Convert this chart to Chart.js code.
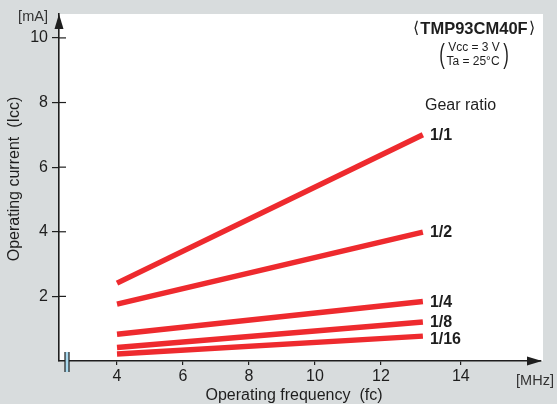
<!DOCTYPE html>
<html>
<head>
<meta charset="utf-8">
<script src="https://cdn.jsdelivr.net/npm/chart.js@4"></script>
<style>
    html, body { margin: 0; padding: 0; background: #d8dcdd; }
    #wrap { width: 557px; height: 404px; }
</style>
</head>
<body>
<div id="wrap"><canvas id="iccChart" width="557" height="404"></canvas></div>
<script>
// Operating current vs frequency, TMP93CM40F

const freq = [4, 13.27];
const gearRatios = ['1/1', '1/2', '1/4', '1/8', '1/16'];
const icc_1_1 = [2.41, 7.0];
const icc_1_2 = [1.76, 3.99];
const icc_1_4 = [0.83, 1.84];
const icc_1_8 = [0.42, 1.21];
const icc_1_16 = [0.22, 0.77];

const xTickPos = [4, 6, 8, 10, 12, 14.42];
const xTickLabels = ['4', '6', '8', '10', '12', '14'];
const yTicks = [2, 4, 6, 8, 10];

const RED = '#ee2a2e';
const INK = '#1e1e1e';
const FONT = '"Liberation Sans", Arial, Helvetica, sans-serif';

const series = [icc_1_1, icc_1_2, icc_1_4, icc_1_8, icc_1_16];

const datasets = series.map((vals, i) => ({
    label: gearRatios[i],
    data: freq.map((f, j) => ({ x: f, y: vals[j] })),
    borderColor: RED,
    borderWidth: 5.5,
    borderCapStyle: 'butt',
    pointRadius: 0,
    fill: false,
    tension: 0
}));

// white plot area, arrows, axis break, labels
const decorations = {
    id: 'decorations',
    beforeDraw(chart) {
        const { ctx, chartArea: a } = chart;
        ctx.save();
        ctx.fillStyle = '#ffffff';
        ctx.fillRect(a.left, a.top, a.right + 2 - a.left, a.bottom - a.top);
        ctx.restore();
    },
    afterDraw(chart) {
        const { ctx, chartArea: a, scales } = chart;
        const x = scales.x, y = scales.y;
        ctx.save();

        // inner half of the y ticks
        ctx.strokeStyle = INK;
        ctx.lineWidth = 1.2;
        yTicks.forEach(v => {
            const py = y.getPixelForValue(v);
            ctx.beginPath();
            ctx.moveTo(a.left, py);
            ctx.lineTo(a.left + 7, py);
            ctx.stroke();
        });

        // axis arrows
        ctx.fillStyle = INK;
        ctx.beginPath();
        ctx.moveTo(a.left, a.top);
        ctx.lineTo(a.left - 4.5, a.top + 15);
        ctx.lineTo(a.left + 4.5, a.top + 15);
        ctx.closePath();
        ctx.fill();

        ctx.beginPath();
        ctx.moveTo(a.right + 1, a.bottom);
        ctx.lineTo(a.right - 14, a.bottom - 4.5);
        ctx.lineTo(a.right - 14, a.bottom + 4.5);
        ctx.closePath();
        ctx.fill();

        // axis break
        ctx.fillStyle = '#a9d9ee';
        ctx.fillRect(a.left + 6, a.bottom - 9, 4, 20);
        ctx.strokeStyle = INK;
        ctx.lineWidth = 1.2;
        [a.left + 6, a.left + 10].forEach(bx => {
            ctx.beginPath();
            ctx.moveTo(bx, a.bottom - 9);
            ctx.lineTo(bx, a.bottom + 11);
            ctx.stroke();
        });

        // gear ratio labels at line ends
        ctx.fillStyle = INK;
        ctx.font = 'bold 16px ' + FONT;
        ctx.textAlign = 'left';
        ctx.textBaseline = 'middle';
        series.forEach((vals, i) => {
            const last = vals.length - 1;
            const px = x.getPixelForValue(freq[last]) + 7;
            let py = y.getPixelForValue(vals[last]) + 1;
            if (i === 4) py += 2;
            ctx.fillText(gearRatios[i], px, py);
        });

        ctx.font = '16px ' + FONT;
        ctx.fillText('Gear ratio', 425, 106);

        // title block
        ctx.textAlign = 'center';
        ctx.font = 'bold 16.5px ' + FONT;
        ctx.fillText('TMP93CM40F', 474, 29);
        ctx.font = '16px "DejaVu Sans", sans-serif';
        ctx.fillText('\u27E8', 416, 29);
        ctx.fillText('\u27E9', 532, 29);

        ctx.font = '12px ' + FONT;
        ctx.fillText('Vcc = 3 V', 474, 48);
        ctx.fillText('Ta = 25\u00B0C', 473, 62);
        ctx.font = '28px ' + FONT;
        [[442, '('], [506, ')']].forEach(([px, ch]) => {
            ctx.save();
            ctx.translate(px, 55);
            ctx.scale(0.6, 1);
            ctx.fillText(ch, 0, 0);
            ctx.restore();
        });

        // units
        ctx.font = '14.5px ' + FONT;
        ctx.fillStyle = '#333';
        ctx.fillText('[mA]', 33, 17);
        ctx.fillText('[MHz]', 535, 381);

        // axis titles
        ctx.fillStyle = INK;
        ctx.font = '16px ' + FONT;
        ctx.fillText('Operating frequency  (fc)', 294, 396);
        ctx.translate(15, 179);
        ctx.rotate(-Math.PI / 2);
        ctx.fillText('Operating current  (Icc)', 0, 0);

        ctx.restore();
    }
};

new Chart(document.getElementById('iccChart'), {
    type: 'line',
    data: { datasets },
    options: {
        responsive: false,
        animation: false,
        layout: { padding: { top: 14, right: 16, left: 0, bottom: 0 } },
        plugins: {
            legend: { display: false },
            tooltip: { enabled: false }
        },
        scales: {
            x: {
                type: 'linear',
                min: 2.242,
                max: 16.85,
                afterBuildTicks: s => { s.ticks = xTickPos.map(v => ({ value: v })); },
                afterFit: s => { s.height = 43; },
                ticks: {
                    autoSkip: false,
                    maxRotation: 0,
                    padding: 2,
                    color: INK,
                    font: { family: FONT, size: 16 },
                    callback: (v, i) => xTickLabels[i]
                },
                grid: { drawOnChartArea: false, drawTicks: true, tickLength: 4, color: INK, lineWidth: 1.2 },
                border: { display: true, color: INK, width: 1.6 }
            },
            y: {
                type: 'linear',
                min: 0,
                max: 10.74,
                afterBuildTicks: s => { s.ticks = yTicks.map(v => ({ value: v })); },
                afterFit: s => { s.width = 59; },
                ticks: {
                    padding: 4,
                    color: INK,
                    font: { family: FONT, size: 16 },
                    callback: v => String(v)
                },
                grid: { drawOnChartArea: false, drawTicks: true, tickLength: 7, color: INK, lineWidth: 1.2 },
                border: { display: true, color: INK, width: 1.6 }
            }
        }
    },
    plugins: [decorations]
});
</script>
</body>
</html>
